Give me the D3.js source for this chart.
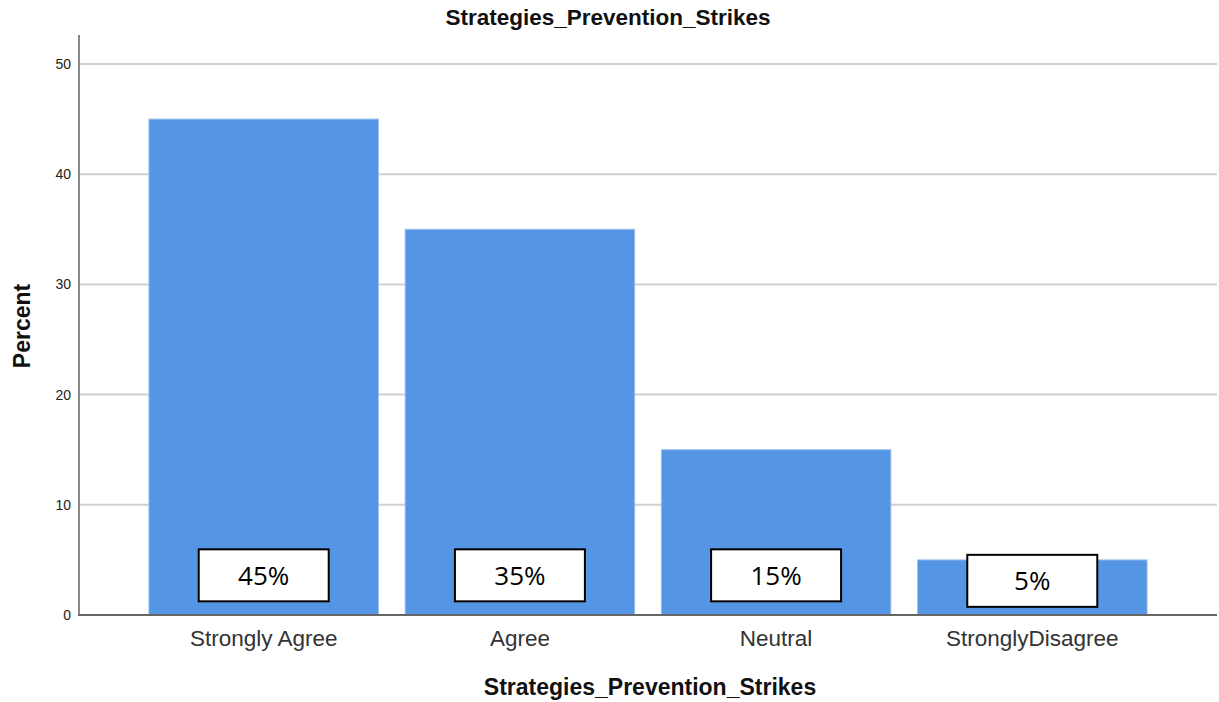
<!DOCTYPE html>
<html>
<head>
<meta charset="utf-8">
<script src="https://cdn.jsdelivr.net/npm/d3@7"></script>
<style>
  html, body { margin: 0; padding: 0; background: #fff; }
  svg { display: block; }
</style>
</head>
<body>
<svg id="chart" width="1219" height="702"></svg>
<script>
// Response categories and their percentages
const categories = ["Strongly Agree", "Agree", "Neutral", "StronglyDisagree"];
const percents = [45, 35, 15, 5];
const boxLabels = ["45%", "35%", "15%", "5%"];
const yTicks = [0, 10, 20, 30, 40, 50];
const chartTitle = "Strategies_Prevention_Strikes";
const xTitle = "Strategies_Prevention_Strikes";
const yTitle = "Percent";

const svg = d3.select("#chart");
const plot = { left: 79, right: 1217, top: 35, bottom: 615 };
const sans = "Liberation Sans, Arial, sans-serif";

const x = d3.scaleBand()
  .domain(categories)
  .range([plot.left, plot.right])
  .paddingInner(0.104)
  .paddingOuter(0.273);

const y = d3.scaleLinear()
  .domain([0, 52.63])
  .range([plot.bottom, plot.top]);

// Horizontal gridlines
svg.append("g")
  .selectAll("line")
  .data(yTicks.filter(d => d > 0))
  .join("line")
  .attr("x1", plot.left)
  .attr("x2", plot.right)
  .attr("y1", d => y(d))
  .attr("y2", d => y(d))
  .attr("stroke", "#cfcfcf")
  .attr("stroke-width", 2);

// Bars
svg.append("g")
  .selectAll("rect")
  .data(percents)
  .join("rect")
  .attr("x", (d, i) => x(categories[i]))
  .attr("width", x.bandwidth())
  .attr("y", d => y(d))
  .attr("height", d => y(0) - y(d))
  .attr("fill", "#5496e3")
  .attr("stroke", "#9cc0ef")
  .attr("stroke-width", 1);

// Y axis
const yAxis = svg.append("g")
  .attr("transform", `translate(${plot.left},0)`)
  .call(d3.axisLeft(y).tickValues(yTicks).tickSize(0).tickPadding(8));
yAxis.select(".domain").remove();
yAxis.selectAll("text")
  .attr("font-family", sans)
  .attr("font-size", 14)
  .attr("fill", "#222");

svg.append("line")
  .attr("x1", plot.left).attr("x2", plot.left)
  .attr("y1", plot.top).attr("y2", plot.bottom + 1)
  .attr("stroke", "#8a8a8a")
  .attr("stroke-width", 2);

// X axis
const xAxis = svg.append("g")
  .attr("transform", `translate(0,${plot.bottom})`)
  .call(d3.axisBottom(x).tickSize(0).tickPadding(15));
xAxis.select(".domain").remove();
xAxis.selectAll("text")
  .attr("font-family", sans)
  .attr("font-size", 22.5)
  .attr("fill", "#333");

svg.append("line")
  .attr("x1", plot.left - 1).attr("x2", plot.right)
  .attr("y1", plot.bottom).attr("y2", plot.bottom)
  .attr("stroke", "#666")
  .attr("stroke-width", 2);

// Value callout boxes near the base of each bar
const boxW = 130, boxH = 52;
const boxes = svg.append("g")
  .selectAll("g")
  .data(boxLabels)
  .join("g")
  .attr("transform", (d, i) => {
    const cx = x(categories[i]) + x.bandwidth() / 2;
    const cy = y(Math.min(3.6, percents[i] - 1.9));
    return `translate(${cx},${cy})`;
  });

boxes.append("rect")
  .attr("x", -boxW / 2)
  .attr("y", -boxH / 2)
  .attr("width", boxW)
  .attr("height", boxH)
  .attr("fill", "#fff")
  .attr("stroke", "#000")
  .attr("stroke-width", 2);

boxes.append("text")
  .attr("text-anchor", "middle")
  .attr("dy", "0.36em")
  .attr("font-family", "Open Sans, Noto Sans, sans-serif")
  .attr("font-size", 26)
  .attr("fill", "#000")
  .text(d => d);

// Titles
svg.append("text")
  .attr("x", 608)
  .attr("y", 25)
  .attr("text-anchor", "middle")
  .attr("font-family", sans)
  .attr("font-weight", "bold")
  .attr("font-size", 22.5)
  .attr("fill", "#111")
  .text(chartTitle);

svg.append("text")
  .attr("x", 650)
  .attr("y", 695)
  .attr("text-anchor", "middle")
  .attr("font-family", sans)
  .attr("font-weight", "bold")
  .attr("font-size", 23)
  .attr("fill", "#111")
  .text(xTitle);

svg.append("text")
  .attr("transform", `translate(30,326) rotate(-90)`)
  .attr("text-anchor", "middle")
  .attr("font-family", sans)
  .attr("font-weight", "bold")
  .attr("font-size", 23)
  .attr("fill", "#111")
  .text(yTitle);
</script>
</body>
</html>
